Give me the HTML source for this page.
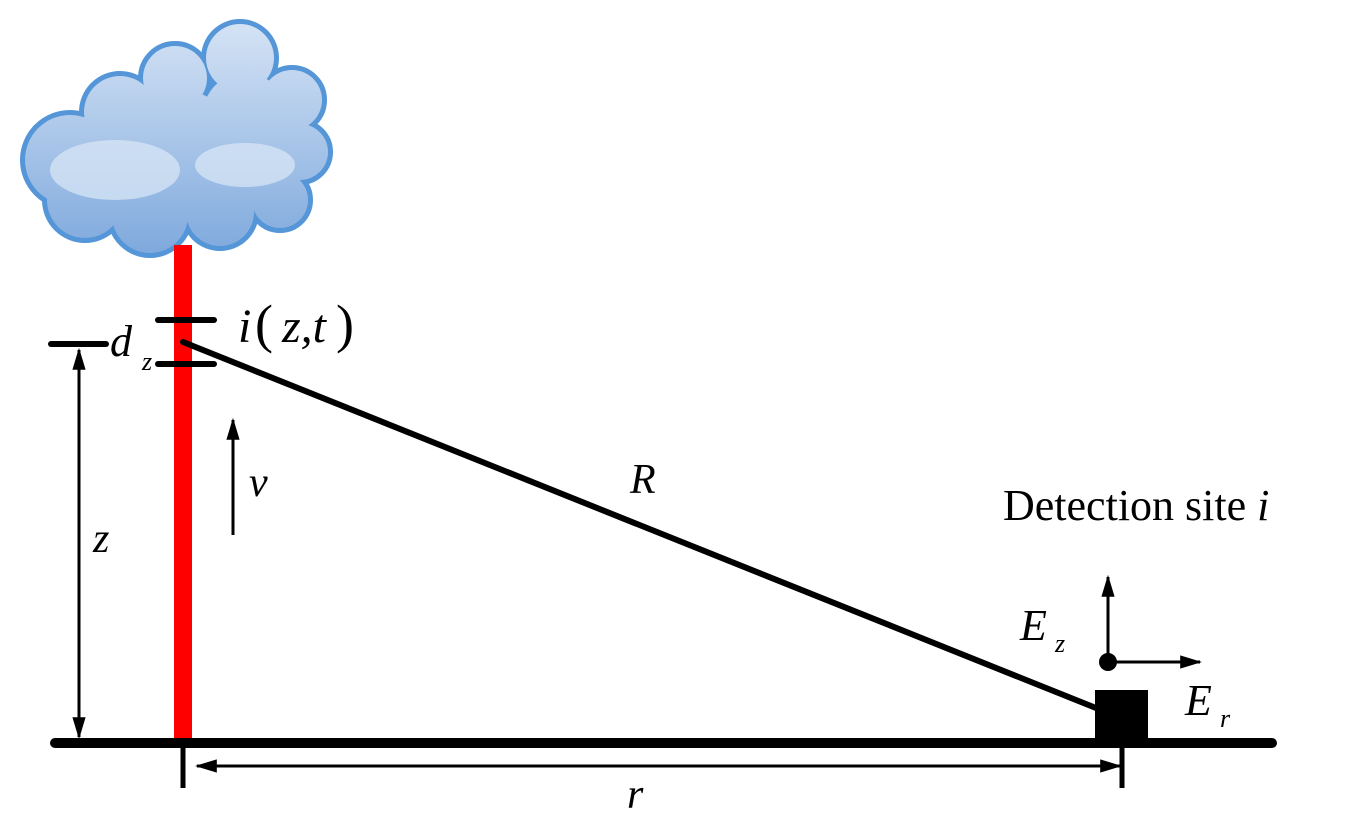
<!DOCTYPE html>
<html><head><meta charset="utf-8"><style>
html,body{margin:0;padding:0;background:#fff;}
svg{display:block;}
text{font-family:"Liberation Serif",serif;font-style:italic;fill:#000;}
</style></head><body>
<svg width="1358" height="819" viewBox="0 0 1358 819" xmlns="http://www.w3.org/2000/svg">
<defs>
<linearGradient id="cg" gradientUnits="userSpaceOnUse" x1="0" y1="30" x2="0" y2="250">
<stop offset="0" stop-color="#d2e1f4"/><stop offset="1" stop-color="#80aadd"/>
</linearGradient>
<marker id="ab" viewBox="0 0 10 10" refX="9" refY="5" markerWidth="22" markerHeight="22" orient="auto-start-reverse" markerUnits="userSpaceOnUse">
<path d="M0,2 L10,5 L0,8 z" fill="#000"/></marker>
</defs>
<!-- cloud -->
<g stroke="#5596d8" stroke-width="10" fill="#5596d8">
<circle cx="70" cy="160" r="45"/><circle cx="120" cy="112" r="36"/><circle cx="175" cy="78" r="32"/>
<circle cx="240" cy="58" r="34"/><circle cx="292" cy="100" r="30"/><circle cx="300" cy="152" r="28"/>
<circle cx="280" cy="200" r="28"/><circle cx="220" cy="212" r="34"/><circle cx="150" cy="215" r="38"/>
<circle cx="85" cy="200" r="38"/><circle cx="180" cy="150" r="60"/><circle cx="245" cy="115" r="42"/>
</g>
<g fill="url(#cg)">
<circle cx="70" cy="160" r="45"/><circle cx="120" cy="112" r="36"/><circle cx="175" cy="78" r="32"/>
<circle cx="240" cy="58" r="34"/><circle cx="292" cy="100" r="30"/><circle cx="300" cy="152" r="28"/>
<circle cx="280" cy="200" r="28"/><circle cx="220" cy="212" r="34"/><circle cx="150" cy="215" r="38"/>
<circle cx="85" cy="200" r="38"/><circle cx="180" cy="150" r="60"/><circle cx="245" cy="115" r="42"/>
<rect x="110" y="115" width="170" height="95"/>
</g>
<ellipse cx="115" cy="170" rx="65" ry="30" fill="#dce8f6" opacity="0.7"/>
<ellipse cx="245" cy="165" rx="50" ry="22" fill="#dce8f6" opacity="0.7"/>
<!-- pole -->
<rect x="174" y="245" width="18" height="498" fill="#ff0000"/>
<!-- ground -->
<line x1="55" y1="743" x2="1272" y2="743" stroke="#000" stroke-width="10" stroke-linecap="round"/>
<line x1="183" y1="743" x2="183" y2="788" stroke="#000" stroke-width="5"/>
<line x1="1122" y1="743" x2="1122" y2="788" stroke="#000" stroke-width="5"/>
<!-- dz bars -->
<g stroke="#000" stroke-width="6" stroke-linecap="round">
<line x1="158" y1="320" x2="214" y2="320"/><line x1="158" y1="364" x2="214" y2="364"/>
<line x1="51" y1="344" x2="106" y2="344"/>
<line x1="183" y1="342" x2="1096" y2="708"/>
</g>
<rect x="1095" y="690" width="53" height="49" fill="#000"/>
<!-- arrows -->
<g stroke="#000" stroke-width="3" fill="none">
<line x1="79" y1="350" x2="79" y2="737" marker-start="url(#ab)" marker-end="url(#ab)"/>
<line x1="197" y1="766" x2="1120" y2="766" marker-start="url(#ab)" marker-end="url(#ab)"/>
<line x1="233" y1="535" x2="233" y2="420" marker-end="url(#ab)"/>
<line x1="1108" y1="662" x2="1108" y2="577" marker-end="url(#ab)"/>
<line x1="1108" y1="662" x2="1200" y2="662" marker-end="url(#ab)"/>
</g>
<circle cx="1108" cy="662" r="9" fill="#000"/>
<!-- labels -->
<text x="110" y="356" font-size="44">d</text>
<text x="142" y="370" font-size="26">z</text>
<text x="238" y="342" font-size="48">i</text>
<text x="255" y="342" font-size="54" style="font-style:normal">(</text>
<text x="282" y="342" font-size="48">z,t</text>
<text x="336" y="342" font-size="54" style="font-style:normal">)</text>
<text x="630" y="493" font-size="42">R</text>
<text x="249" y="496" font-size="42">v</text>
<text x="93" y="552" font-size="42">z</text>
<text x="627" y="808" font-size="42">r</text>
<text x="1003" y="520" font-size="44" style="font-style:normal">Detection site <tspan style="font-style:italic">i</tspan></text>
<text x="1020" y="640" font-size="44">E</text>
<text x="1055" y="652" font-size="26">z</text>
<text x="1185" y="715" font-size="44">E</text>
<text x="1220" y="727" font-size="26">r</text>
</svg>
</body></html>
